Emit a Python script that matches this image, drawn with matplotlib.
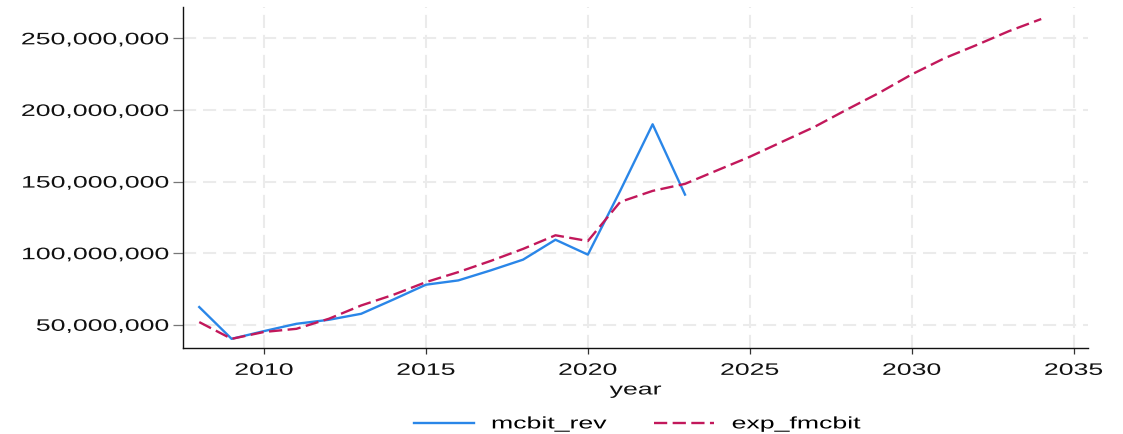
import matplotlib
matplotlib.use("Agg")
import matplotlib.pyplot as plt
from matplotlib.ticker import FuncFormatter
from matplotlib.patheffects import AbstractPathEffect
from matplotlib.transforms import Affine2D

# Data
years_rev = [2008, 2009, 2010, 2011, 2012, 2013, 2014, 2015, 2016, 2017,
             2018, 2019, 2020, 2021, 2022, 2023]
mcbit_rev = [62.4e6, 40.2e6, 45.6e6, 50.7e6, 53.5e6, 57.7e6, 67.7e6, 78.0e6,
             81.0e6, 88.0e6, 95.5e6, 109.4e6, 99.0e6, 143.6e6, 190.0e6, 140.9e6]

years_exp = list(range(2008, 2035))
exp_fmcbit = [51.9e6, 40.2e6, 45.0e6, 47.2e6, 54.2e6, 63.5e6, 71.0e6, 79.8e6,
              86.8e6, 94.6e6, 103.0e6, 112.5e6, 108.5e6, 135.8e6, 143.5e6,
              148.4e6, 157.9e6, 167.3e6, 177.8e6, 188.2e6, 200.3e6, 212.0e6,
              224.8e6, 236.0e6, 245.3e6, 255.0e6, 263.5e6]

xticks = [2010, 2015, 2020, 2025, 2030, 2035]
yticks = [50e6, 100e6, 150e6, 200e6, 250e6]


class HStretch(AbstractPathEffect):
    """Stretch text horizontally about an anchor (left/center/right)."""
    def __init__(self, sx=1.6, anchor='center'):
        super().__init__()
        self.sx = sx
        self.anchor = anchor

    def draw_path(self, renderer, gc, tpath, affine, rgbFace=None):
        ext = tpath.get_extents(affine)
        if self.anchor == 'right':
            x0 = ext.x1
        elif self.anchor == 'left':
            x0 = ext.x0
        else:
            x0 = 0.5 * (ext.x0 + ext.x1)
        new_aff = affine + Affine2D().translate(-x0, 0).scale(self.sx, 1).translate(x0, 0)
        renderer.draw_path(gc, tpath, new_aff, rgbFace)


SX = 1.6
plt.rcParams['font.family'] = ['Liberation Sans', 'DejaVu Sans']
FS = 12

fig = plt.figure(figsize=(11.23, 4.35), dpi=100)
ax = fig.add_axes([0.163, 0.198, 0.806, 0.784])

ax.plot(years_rev, mcbit_rev, color='#2a86e8', lw=1.7, label='mcbit_rev', zorder=3)
ax.plot(years_exp, exp_fmcbit, color='#c2185b', lw=1.7, dashes=(5.6, 2.3),
        label='exp_fmcbit', zorder=3)

ax.set_xlim(2007.5, 2035.45)
ax.set_ylim(33.9e6, 272e6)
ax.set_xticks(xticks)
ax.set_yticks(yticks)
ax.yaxis.set_major_formatter(FuncFormatter(lambda v, p: f"{int(round(v)):,}"))

ax.grid(True, color='#ebebeb', lw=1.5, ls=(0, (6.3, 3.3)), zorder=0)
for s in ['top', 'right']:
    ax.spines[s].set_visible(False)
for s in ['left', 'bottom']:
    ax.spines[s].set_color('#111111')
    ax.spines[s].set_linewidth(1.0)

ax.tick_params(axis='y', which='major', length=7.5, width=0.9, color='#777777',
               labelsize=FS, labelcolor='#111111', pad=3)
ax.tick_params(axis='x', which='major', length=4.3, width=0.9, color='#333333',
               labelsize=FS, labelcolor='#111111', pad=6.5)
ax.set_xlabel('year', fontsize=FS, color='#111111', labelpad=3.3)

for lab in ax.get_yticklabels():
    lab.set_path_effects([HStretch(SX, 'right')])
for lab in ax.get_xticklabels():
    lab.set_path_effects([HStretch(SX, 'center')])
ax.xaxis.label.set_path_effects([HStretch(SX, 'center')])

leg = fig.legend(loc='center', bbox_to_anchor=(0.546, 0.023), ncol=2, frameon=False,
                 fontsize=FS, handlelength=3.6, columnspacing=5.4, handletextpad=1.08)
for t in leg.get_texts():
    t.set_path_effects([HStretch(SX, 'left')])

fig.savefig('out.png', dpi=100, facecolor='white')
